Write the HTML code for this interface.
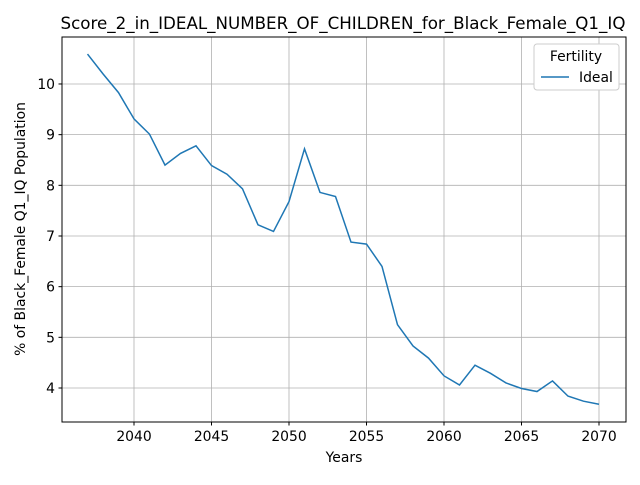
<!DOCTYPE html>
<html><head><meta charset="utf-8"><style>
body{margin:0;background:#fff;}
svg{font-family:"DejaVu Sans","Liberation Sans",sans-serif;}
</style></head><body>
<svg id="chart" width="640" height="480" xmlns="http://www.w3.org/2000/svg">
<rect width="640" height="480" fill="#fff"/>
<text x="343" y="29" font-size="16.7" text-anchor="middle">Score_2_in_IDEAL_NUMBER_OF_CHILDREN_for_Black_Female_Q1_IQ</text>
<g id="grid"></g>
<g id="ticks"></g>
<path id="line" fill="none" stroke="#1f77b4" stroke-width="1.5"/>
<rect x="62" y="37" width="564" height="385" fill="none" stroke="#000" stroke-width="1"/>
<text x="344" y="462" font-size="13.9" text-anchor="middle">Years</text>
<text transform="translate(25,229) rotate(-90)" font-size="13.9" text-anchor="middle">% of Black_Female Q1_IQ Population</text>
<g>
<rect x="534" y="44" width="85" height="46" rx="3" fill="#fff" stroke="#ccc"/>
<text x="576" y="61" font-size="13.9" text-anchor="middle">Fertility</text>
<line x1="541" y1="77" x2="569" y2="77" stroke="#1f77b4" stroke-width="1.5"/>
<text x="579" y="82" font-size="13.9">Ideal</text>
</g>
</svg>
<script>
const years=[2037,2038,2039,2040,2041,2042,2043,2044,2045,2046,2047,2048,2049,2050,2051,2052,2053,2054,2055,2056,2057,2058,2059,2060,2061,2062,2063,2064,2065,2066,2067,2068,2069,2070];
const values=[10.59,10.2,9.83,9.31,9.01,8.4,8.63,8.78,8.39,8.22,7.93,7.22,7.09,7.68,8.72,7.86,7.78,6.88,6.84,6.4,5.25,4.83,4.59,4.24,4.06,4.45,4.29,4.1,3.99,3.93,4.14,3.84,3.74,3.68];
const xTicks=[2040,2045,2050,2055,2060,2065,2070];
const yTicks=[4,5,6,7,8,9,10];
const NS="http://www.w3.org/2000/svg";
const xs=v=>134+(v-2040)*15.5;
const ys=v=>388-(v-4)*50.67;
const grid=document.getElementById('grid'),ticks=document.getElementById('ticks');
function mk(tag,attrs,parent){const e=document.createElementNS(NS,tag);for(const k in attrs)e.setAttribute(k,attrs[k]);parent.appendChild(e);return e;}
xTicks.forEach(t=>{const x=xs(t);
const g=mk('line',{x1:x,x2:x,y1:37,y2:422,stroke:'#b0b0b0','stroke-width':0.8},grid);


mk('line',{x1:x,x2:x,y1:422,y2:425.5,stroke:'#000'},ticks);
const tx=mk('text',{x:x,y:441,'font-size':13.9,'text-anchor':'middle'},ticks);tx.textContent=t;

});
yTicks.forEach(t=>{const y=ys(t);
const g=mk('line',{x1:62,x2:626,y1:y,y2:y,stroke:'#b0b0b0','stroke-width':0.8},grid);


mk('line',{x1:58.5,x2:62,y1:y,y2:y,stroke:'#000'},ticks);
const tx=mk('text',{x:55,y:y+5,'font-size':13.9,'text-anchor':'end'},ticks);tx.textContent=t;

});
document.getElementById('line').setAttribute('d',years.map((y,i)=>(i?'L':'M')+xs(y)+','+ys(values[i])).join(' '));
</script>
</body></html>
